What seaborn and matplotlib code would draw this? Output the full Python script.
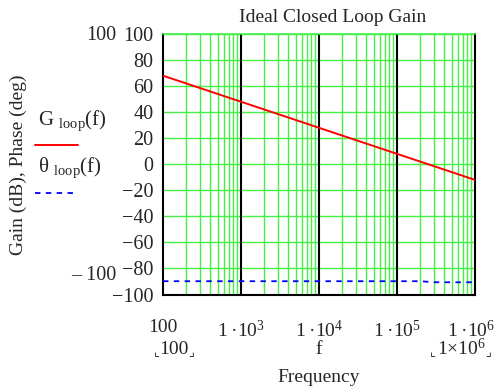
import matplotlib
matplotlib.use("Agg")
import matplotlib.pyplot as plt
import matplotlib.transforms as mtransforms
import seaborn as sns
import pandas as pd
import numpy as np
from matplotlib.ticker import FixedLocator, NullFormatter

sns.set_theme(style="white")
plt.rcParams['font.family'] = ['Liberation Serif', 'DejaVu Serif', 'DejaVu Sans']
plt.rcParams['mathtext.fontset'] = 'custom'
plt.rcParams['mathtext.rm'] = 'Liberation Serif'
plt.rcParams['mathtext.it'] = 'Liberation Serif:italic'

# Data
freq = [100, 1e3, 1e4, 1e5, 1e6]
gain_db = [68, 48, 28, 8, -12]
phase_freq = [100, 1e3, 1e4, 1e5, 2e5, 3e5, 1e6]
phase_deg = [-89.8, -89.8, -89.8, -89.8, -89.8, -90.6, -90.6]
y_ticks = [100, 80, 60, 40, 20, 0, -20, -40, -60, -80, -100]
y_tick_labels = ["100", "80", "60", "40", "20", "0", "\u221220", "\u221240", "\u221260", "\u221280", "\u2212100"]
x_ticks = [100, 1e3, 1e4, 1e5, 1e6]
x_tick_labels = ["100", "1\u2009\u00b710$^{3}$", "1\u2009\u00b710$^{4}$", "1\u2009\u00b710$^{5}$", "1\u2009\u00b710$^{6}$"]

gain_df = pd.DataFrame({"f": freq, "v": gain_db})
phase_df = pd.DataFrame({"f": phase_freq, "v": phase_deg})

FS = 14.5
GREEN = '#44f044'

fig = plt.figure(figsize=(4.97, 3.92), dpi=100)
ax = fig.add_axes([163/497, 1-294.5/392, (475-163)/497, (294.5-34)/392])

ax.set_xscale('log')
ax.set_xlim(100, 1e6)
ax.set_ylim(-100, 100)

# grid
minor = [m * 10**e for e in range(2, 6) for m in range(2, 10)]
for x in minor:
    ax.axvline(x, color=GREEN, lw=1.0, zorder=1)
for y in y_ticks:
    ax.axhline(y, color=GREEN, lw=1.0, zorder=1)
for x in [1e3, 1e4, 1e5]:
    ax.axvline(x, color='black', lw=1.5, zorder=2)

sns.lineplot(data=gain_df, x="f", y="v", ax=ax, color='#ff0000', lw=1.4, zorder=4)
sns.lineplot(data=phase_df, x="f", y="v", ax=ax, color='#0000ff', lw=1.3,
             linestyle=(0, (3, 3)), zorder=4)

ax.set_xlabel("")
ax.set_ylabel("")
ax.xaxis.set_major_locator(FixedLocator(x_ticks))
ax.xaxis.set_minor_formatter(NullFormatter())
ax.set_xticks(x_ticks)
ax.set_xticklabels(x_tick_labels, fontsize=14)
ax.set_yticks(y_ticks)
ax.set_yticklabels(y_tick_labels, fontsize=FS)
ax.tick_params(axis='x', which='both', length=0, pad=18)
ax.tick_params(axis='y', which='both', length=0, pad=7)

# nudge the last x tick label slightly left so it stays inside the figure
last = ax.get_xticklabels()[-1]
last.set_transform(last.get_transform() + mtransforms.ScaledTranslation(-4/100, 0, fig.dpi_scale_trans))

for s in ['left', 'bottom', 'right']:
    ax.spines[s].set_color('black')
    ax.spines[s].set_linewidth(1.5)
ax.spines['top'].set_color(GREEN)
ax.spines['top'].set_linewidth(1.2)

# title and labels
fig.text(333/497, 1-17/392, "Ideal Closed Loop Gain", ha='center', va='center', fontsize=14)
fig.text(18/497, 1-165/392, "Gain (dB), Phase (deg)", ha='center', va='center',
         rotation=90, fontsize=14)
fig.text(116/497, 1-36/392, "100", ha='right', va='center', fontsize=FS)
fig.text(116/497, 1-276/392, "\u2013 100", ha='right', va='center', fontsize=FS)

# range markers under the x axis
def bracket_label(xc, text, x_left, x_right, y=349):
    fig.text(xc/497, 1-y/392, text, ha='center', va='center', fontsize=14)
    fig.text(x_left/497, 1-(y+4)/392, "\u231e", ha='center', va='center', fontsize=9,
             family=['DejaVu Sans'])
    fig.text(x_right/497, 1-(y+4)/392, "\u231f", ha='center', va='center', fontsize=9,
             family=['DejaVu Sans'])

bracket_label(174, "100", 157, 191)
bracket_label(461, "1\u00d710$^{6}$", 433, 488)
fig.text(319/497, 1-349/392, "f", ha='center', va='center', fontsize=14)
fig.text(319/497, 1-378/392, "Frequency", ha='center', va='center', fontsize=14)

# legend
fig.text(38/497, 1-121/392, "G $_{\\mathregular{loop}}$(f)", ha='left', va='center', fontsize=15)
fig.add_artist(plt.Line2D([35/497, 78/497], [1-145/392, 1-145/392], color='#ff0000', lw=1.4))
fig.text(38/497, 1-168/392, "\u03b8 $_{\\mathregular{loop}}$(f)", ha='left', va='center', fontsize=15)
fig.add_artist(plt.Line2D([35/497, 78/497], [1-193/392, 1-193/392], color='#0000ff', lw=1.3,
                          linestyle=(0, (3, 3))))

fig.savefig("out.png", dpi=100)
